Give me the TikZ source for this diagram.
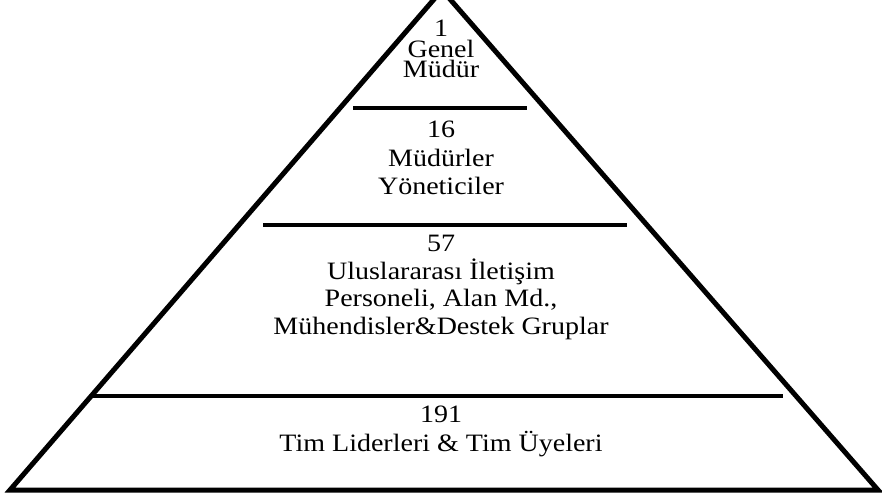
\documentclass[tikz,border=0pt]{standalone}
\usepackage{fontspec}
\setmainfont{Liberation Serif}[FakeStretch=1.12]
\usepackage{tikz}
\usetikzlibrary{positioning}
\tikzstyle{tier} = [align=center, inner sep=0pt, anchor=north, font=\fontsize{25}{28}\selectfont]
\tikzstyle{outline} = [line width=5pt, line join=miter]
\tikzstyle{divider} = [line width=4.5pt]

\begin{document}
\setlength{\lineskiplimit}{-20pt}
\begin{tikzpicture}[x=1pt, y=-1pt]
    \useasboundingbox (0,0) rectangle (882,497);

    % Pyramid
    \coordinate (apex) at (442,-10);
    \coordinate (bl) at (10,490);
    \coordinate (br) at (878,490);
    \draw[outline] (apex) -- (bl) -- (br) -- cycle;

    % Dividers between levels
    \draw[divider] (353,108) -- (527,108);
    \draw[divider] (263,225) -- (627,225);
    \draw[divider] (93,396) -- (783,396);

    % Levels
    \node[tier, font=\fontsize{25}{20.5}\selectfont] (gm) at (441,20) {1\\Genel\\Müdür};
    \node[tier, font=\fontsize{25}{28.5}\selectfont] (mud) at (441,121) {16\\Müdürler\\Yöneticiler};
    \node[tier, font=\fontsize{25}{27.7}\selectfont] (pers) at (441,235) {57\\Uluslararası İletişim\\Personeli, Alan Md.,\\Mühendisler\&Destek Gruplar};
    \node[tier, font=\fontsize{25}{29}\selectfont] (tim) at (441,406) {191\\Tim Liderleri \& Tim Üyeleri};
\end{tikzpicture}
\end{document}
